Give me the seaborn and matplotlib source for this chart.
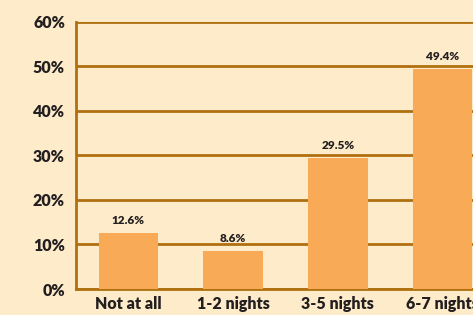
import matplotlib
matplotlib.use("Agg")
import matplotlib.pyplot as plt
import seaborn as sns
from matplotlib.ticker import FixedLocator, PercentFormatter

categories = ["Not at all", "1-2 nights", "3-5 nights", "6-7 nights"]
values = [12.6, 8.6, 29.5, 49.4]
yticks = [0, 10, 20, 30, 40, 50, 60]

bg = "#fdebc9"
bar_color = "#f9aa56"
line_color = "#b0700f"
text_color = "#231f20"

sns.set_style("white")
plt.rcParams["font.family"] = ["Lato", "DejaVu Sans"]

fig = plt.figure(figsize=(4.73, 3.15), dpi=100, facecolor=bg)
ax = fig.add_axes([0.1607, 0.0825, 0.8393, 0.848])
ax.set_facecolor(bg)

sns.barplot(x=categories, y=values, color=bar_color, width=0.57,
            saturation=1, linewidth=0, ax=ax, zorder=3)

# gridlines behind bars
ax.set_ylim(0, 60)
ax.set_yticks(yticks)
ax.yaxis.set_major_formatter(PercentFormatter(decimals=0))
ax.grid(axis="y", color=line_color, linewidth=2, zorder=1)
ax.set_axisbelow(True)

ax.set_xlim(-0.5, 3.29)

for side in ["top", "right"]:
    ax.spines[side].set_visible(False)
for side in ["left", "bottom"]:
    ax.spines[side].set_color(line_color)
    ax.spines[side].set_linewidth(2)

ax.tick_params(axis="y", direction="out", length=5, width=2, color=line_color,
               labelsize=11.5, labelcolor=text_color, pad=3)
ax.tick_params(axis="x", which="major", length=0, labelsize=11.5,
               labelcolor=text_color, pad=5)
ax.xaxis.set_minor_locator(FixedLocator([0.5, 1.5, 2.5]))
ax.tick_params(axis="x", which="minor", direction="out", length=6, width=2,
               color=line_color)
for lbl in ax.get_xticklabels() + ax.get_yticklabels():
    lbl.set_fontweight("heavy")

for i, v in enumerate(values):
    ax.annotate(f"{v:.1f}%", (i, v), xytext=(0, 5), textcoords="offset points",
                ha="center", va="bottom", fontsize=8.5, fontweight="heavy",
                color=text_color)

ax.set_xlabel("")
ax.set_ylabel("")

fig.savefig("out.png", dpi=100, facecolor=bg)
